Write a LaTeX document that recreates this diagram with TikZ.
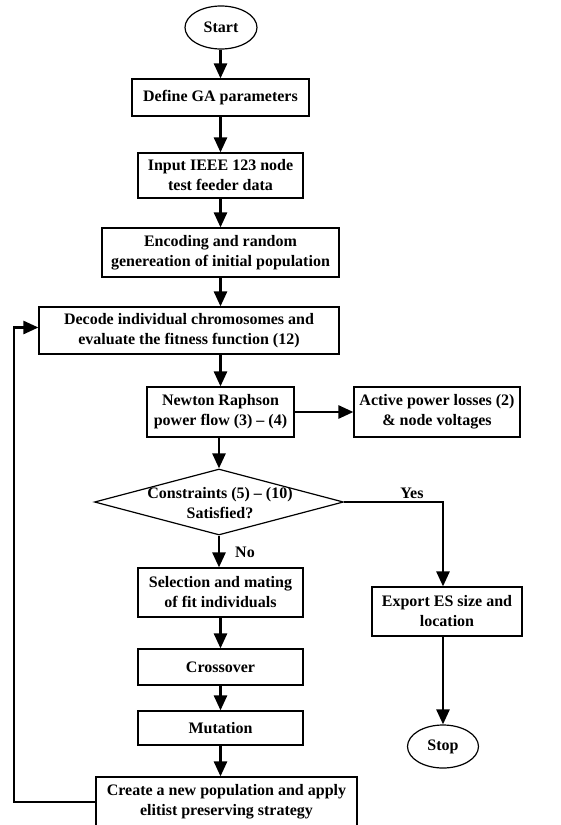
\documentclass[tikz,border=0pt]{standalone}
\usepackage{fontspec}
\setmainfont{Liberation Serif}
\usetikzlibrary{arrows.meta,shapes.geometric}
\tikzset{
  box/.style={draw, line width=1.2pt, inner sep=0pt, align=center, font=\bfseries\fontsize{16}{20}\selectfont},
  oval/.style={draw, ellipse, line width=1.2pt, inner sep=0pt, font=\bfseries\fontsize{16}{20}\selectfont},
  lbl/.style={inner sep=0pt, align=center, font=\bfseries\fontsize{16}{20}\selectfont},
  arr/.style={line width=2.6pt, -{Triangle[width=13pt,length=15pt]}},
  ln/.style={line width=2.6pt}
}
\begin{document}
\begin{tikzpicture}[x=1pt,y=-1pt]
\useasboundingbox (0,0) rectangle (560,825);
\node[oval, minimum width=72pt, minimum height=43pt] (start) at (221,27.5) {Start};
\node[box, minimum width=177pt, minimum height=37pt] (def) at (220.5,97.5) {Define GA parameters};
\node[box, minimum width=165pt, minimum height=45pt] (inp) at (220.5,175.5) {Input IEEE 123 node\\test feeder data};
\node[box, minimum width=237pt, minimum height=49pt] (enc) at (220.5,252.5) {Encoding and random\\genereation of initial population};
\node[box, minimum width=300pt, minimum height=47pt] (dec) at (189,330.5) {Decode individual chromosomes and\\evaluate the fitness function (12)};
\node[box, minimum width=147pt, minimum height=50pt] (nr) at (220.5,412) {Newton Raphson\\power flow (3) -- (4)};
\node[box, minimum width=166pt, minimum height=50pt] (act) at (437,412) {Active power losses (2)\\\& node voltages};
\node[draw, diamond, line width=1.2pt, inner sep=0pt, minimum width=249pt, minimum height=66pt] (dia) at (219,502) {};
\node[lbl] (diat) at (220,503) {Constraints (5) -- (10)\\Satisfied?};
\node[box, minimum width=165pt, minimum height=49pt] (sel) at (220.5,592.5) {Selection and mating\\of fit individuals};
\node[box, minimum width=165pt, minimum height=36pt] (cro) at (220.5,667) {Crossover};
\node[box, minimum width=165pt, minimum height=34pt] (mut) at (220.5,728) {Mutation};
\node[box, minimum width=261pt, minimum height=50pt] (cre) at (226.5,802) {Create a new population and apply\\elitist preserving strategy};
\node[box, minimum width=150pt, minimum height=49pt] (exp) at (447,611.5) {Export ES size and\\location};
\node[oval, minimum width=71pt, minimum height=43pt] (stop) at (443,746.5) {Stop};
\node[lbl] (yes) at (412,493) {Yes};
\node[lbl] (no) at (245,552) {No};
\coordinate (loopx) at (14,0);
\draw[arr] (start.south -| def.north) -- (def.north);
\draw[arr] (def.south) -- (inp.north);
\draw[arr] (inp.south) -- (enc.north);
\draw[arr] (enc.south) -- (enc.south |- dec.north);
\draw[arr] (dec.south -| nr.north) -- (nr.north);
\draw[arr] (nr.east) -- (act.west);
\draw[arr] (nr.south -| dia.north) -- (dia.north);
\draw[arr] (dia.south) -- (dia.south |- sel.north);
\draw[arr] (sel.south) -- (cro.north);
\draw[arr] (cro.south) -- (mut.north);
\draw[arr] (mut.south) -- (mut.south |- cre.north);
\draw[arr] (dia.east) -- (dia.east -| stop.north) -- (stop.north |- exp.north);
\draw[arr] (exp.south -| stop.north) -- (stop.north);
\draw[arr] (cre.west) -- (cre.west -| loopx) |- ([yshift=3pt]dec.west);
\end{tikzpicture}
\end{document}
